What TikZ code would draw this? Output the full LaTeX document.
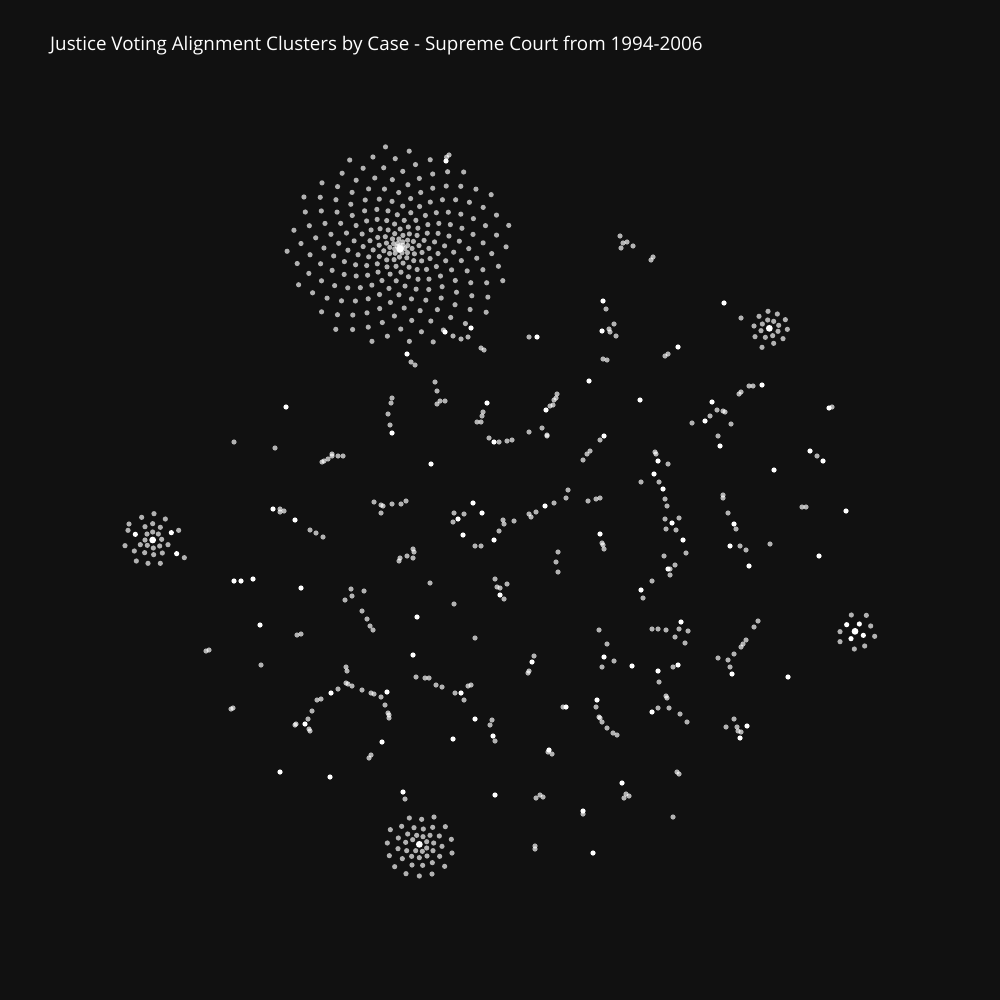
\documentclass[tikz,border=0pt]{standalone}
\usepackage{fontspec}
\setmainfont{Open Sans}
\definecolor{bg}{HTML}{111111}
\tikzset{
  gd/.style={fill=white, fill opacity=0.68},
  wd/.style={fill=white},
}
\def\rr{2.6pt}
\begin{document}
\begin{tikzpicture}[x=1pt,y=-1pt]
\fill[bg] (0,0) rectangle (1000,1000);
\useasboundingbox (0,0) rectangle (1000,1000);
\node[anchor=base west, text=white, inner sep=0, font=\fontsize{18.8}{22}\selectfont] (title) at (50,51) {Justice Voting Alignment Clusters by Case - Supreme Court from 1994-2006};
% big spiral cluster
\foreach \i in {1,...,250}{
  \pgfmathsetmacro\rad{113*(\i/250)^0.9}
  \pgfmathsetmacro\ang{360*(0.381966*\i - floor(0.381966*\i))}
  \fill[gd] ({400+\rad*cos(\ang)},{247+0.9*\rad*sin(\ang)}) circle (\rr);
}
\fill[wd] (400,249) circle (3.6pt);
% cluster 2
\foreach \x/\y in {504/274,532/282,477/289,556/299,503/300,521/304,487/312,536/316,462/318,483/332,534/334,562/328,465/350,496/352,518/347,549/356,521/370,486/382}
  \fill[gd] ({600+\x/3},{220+\y/3}) circle (\rr);
\fill[wd] ({600+508/3},{220+325/3}) circle (3.4pt);
% cluster 3
\foreach \x/\y in {162/461,125/472,196/477,87/492,135/500,158/491,181/502,84/511,141/522,158/516,175/522,236/511,135/540,185/538,75/557,121/554,142/556,160/564,179/558,204/554,103/573,134/578,161/584,187/579,253/593,109/603,144/610,181/610}
  \fill[gd] ({100+\x/3},{360+\y/3}) circle (\rr);
\foreach \x/\y in {106/523,214/518,230/581}
  \fill[wd] ({100+\x/3},{360+\y/3}) circle (\rr);
\fill[wd] ({100+158/3},{360+540/3}) circle (3.4pt);
% cluster 4
\foreach \x/\y in {754/465,799/466,812/498,720/515,824/529,720/545,794/558,763/567}
  \fill[gd] ({600+\x/3},{460+\y/3}) circle (\rr);
\foreach \x/\y in {740/494,778/492,790/526,753/536}
  \fill[wd] ({600+\x/3},{460+\y/3}) circle (\rr);
\fill[wd] ({600+765/3},{460+514/3}) circle (3.4pt);
% cluster 5
\foreach \x/\y in {222/141,148/144,185/148,91/179,125/169,162/173,190/177,218/172,256/170,143/192,170/196,189/200,210/196,238/198,115/204,158/209,274/208,82/219,137/217,200/215,221/219,246/229,114/236,140/242,167/242,187/244,200/234,219/242,276/249,88/257,127/266,155/259,178/263,201/258,239/259,217/278,104/290,156/285,188/286,254/289,138/311,178/318,216/312}
  \fill[gd] ({360+\x/3},{770+\y/3}) circle (\rr);
\fill[wd] ({360+178/3},{770+223/3}) circle (3.4pt);
% scattered grey dots
\foreach \x/\y in {449/155,453/336,461/339,468/337,481/348,484/350,411/362,415/365,529/337,
620/236,623/243,627/242,621/248,633/246,651/260,653/257,
606/309,609/329,610/332,614/324,616/336,603/359,607/360,
665/356,668/354,741/318,739/394,741/392,749/386,753/386,
717/410,723/411,725/412,710/416,692/423,731/424,718/436,
832/407,817/456,655/452,656/454,668/464,
435/382,437/391,437/404,440/401,445/401,392/398,391/403,388/414,390/425,
483/412,482/416,477/422,481/422,489/438,499/442,507/441,512/440,
557/394,556/398,554/400,553/405,550/406,542/428,547/435,547/436,529/432,
600/440,590/451,587/454,583/460,
374/502,381/505,383/506,381/513,392/504,401/504,406/501,
454/513,453/522,464/514,475/546,481/546,499/531,503/520,504/524,514/521,529/514,531/517,536/512,554/503,566/498,568/490,588/501,596/499,600/498,
602/543,604/549,558/552,556/562,558/572,
413/549,414/552,413/558,407/556,400/558,399/561,
495/579,497/587,500/588,507/584,504/599,
430/583,454/604,364/591,362/611,367/619,
234/442,275/448,322/462,324/461,328/459,332/454,332/456,338/456,343/456,
280/509,280/512,284/511,310/530,316/533,323/537,351/589,352/596,345/600,
641/482,659/482,665/499,667/506,665/519,679/518,666/529,676/530,686/553,664/556,675/565,670/569,670/575,652/581,643/598,
603/545,723/495,723/498,728/513,736/529,740/546,746/550,770/544,802/507,806/507,
758/621,754/627,746/640,743/644,741/647,734/654,728/660,718/658,730/667,
652/629,658/629,666/630,679/629,688/631,675/637,685/643,
607/644,614/661,602/667,599/630,
659/682,673/667,666/696,667/698,658/708,669/708,680/714,687/722,
596/707,599/717,600/718,602/722,607/728,613/733,617/735,
734/719,726/727,737/727,738/731,741/732,
370/626,373/630,297/635,301/634,206/651,209/650,261/665,231/709,233/708,416/677,
346/667,347/671,346/683,348/684,352/686,338/689,321/699,317/700,312/711,308/719,296/724,295/725,309/729,310/731,
362/690,371/693,374/694,381/697,385/705,388/713,389/715,389/718,
371/755,369/758,405/799,
475/638,425/678,429/678,436/685,442/687,455/693,464/700,468/686,471/685,
534/656,529/671,528/673,492/720,490/725,495/741,563/707,
548/752,552/754,536/798,540/795,543/797,626/794,629/796,624/798,583/814,535/846,535/849,673/817,677/772,679/774}
  \fill[gd] (\x,\y) circle (\rr);
% scattered white dots
\foreach \x/\y in {446/161,445/332,471/328,407/354,537/337,
603/301,602/331,589/381,678/347,724/303,762/385,640/400,712/402,705/421,720/446,829/408,810/451,823/461,774/470,658/461,654/474,604/436,
392/433,487/403,494/442,546/410,431/464,473/503,458/519,482/513,463/535,494/540,545/506,600/534,500/595,417/617,
286/407,273/509,295/520,234/581,241/581,253/579,301/588,
663/489,672/523,683/540,668/569,641/590,734/524,730/546,749/566,846/511,819/556,788/677,681/622,604/657,632/666,658/671,678/665,652/712,747/726,740/738,732/674,
260/625,413/655,331/693,305/724,387/692,382/742,280/772,330/777,403/792,
461/693,475/719,453/739,532/662,493/736,566/707,597/700,549/750,495/795,622/783,583/811,593/853}
  \fill[wd] (\x,\y) circle (\rr);
\end{tikzpicture}
\end{document}
